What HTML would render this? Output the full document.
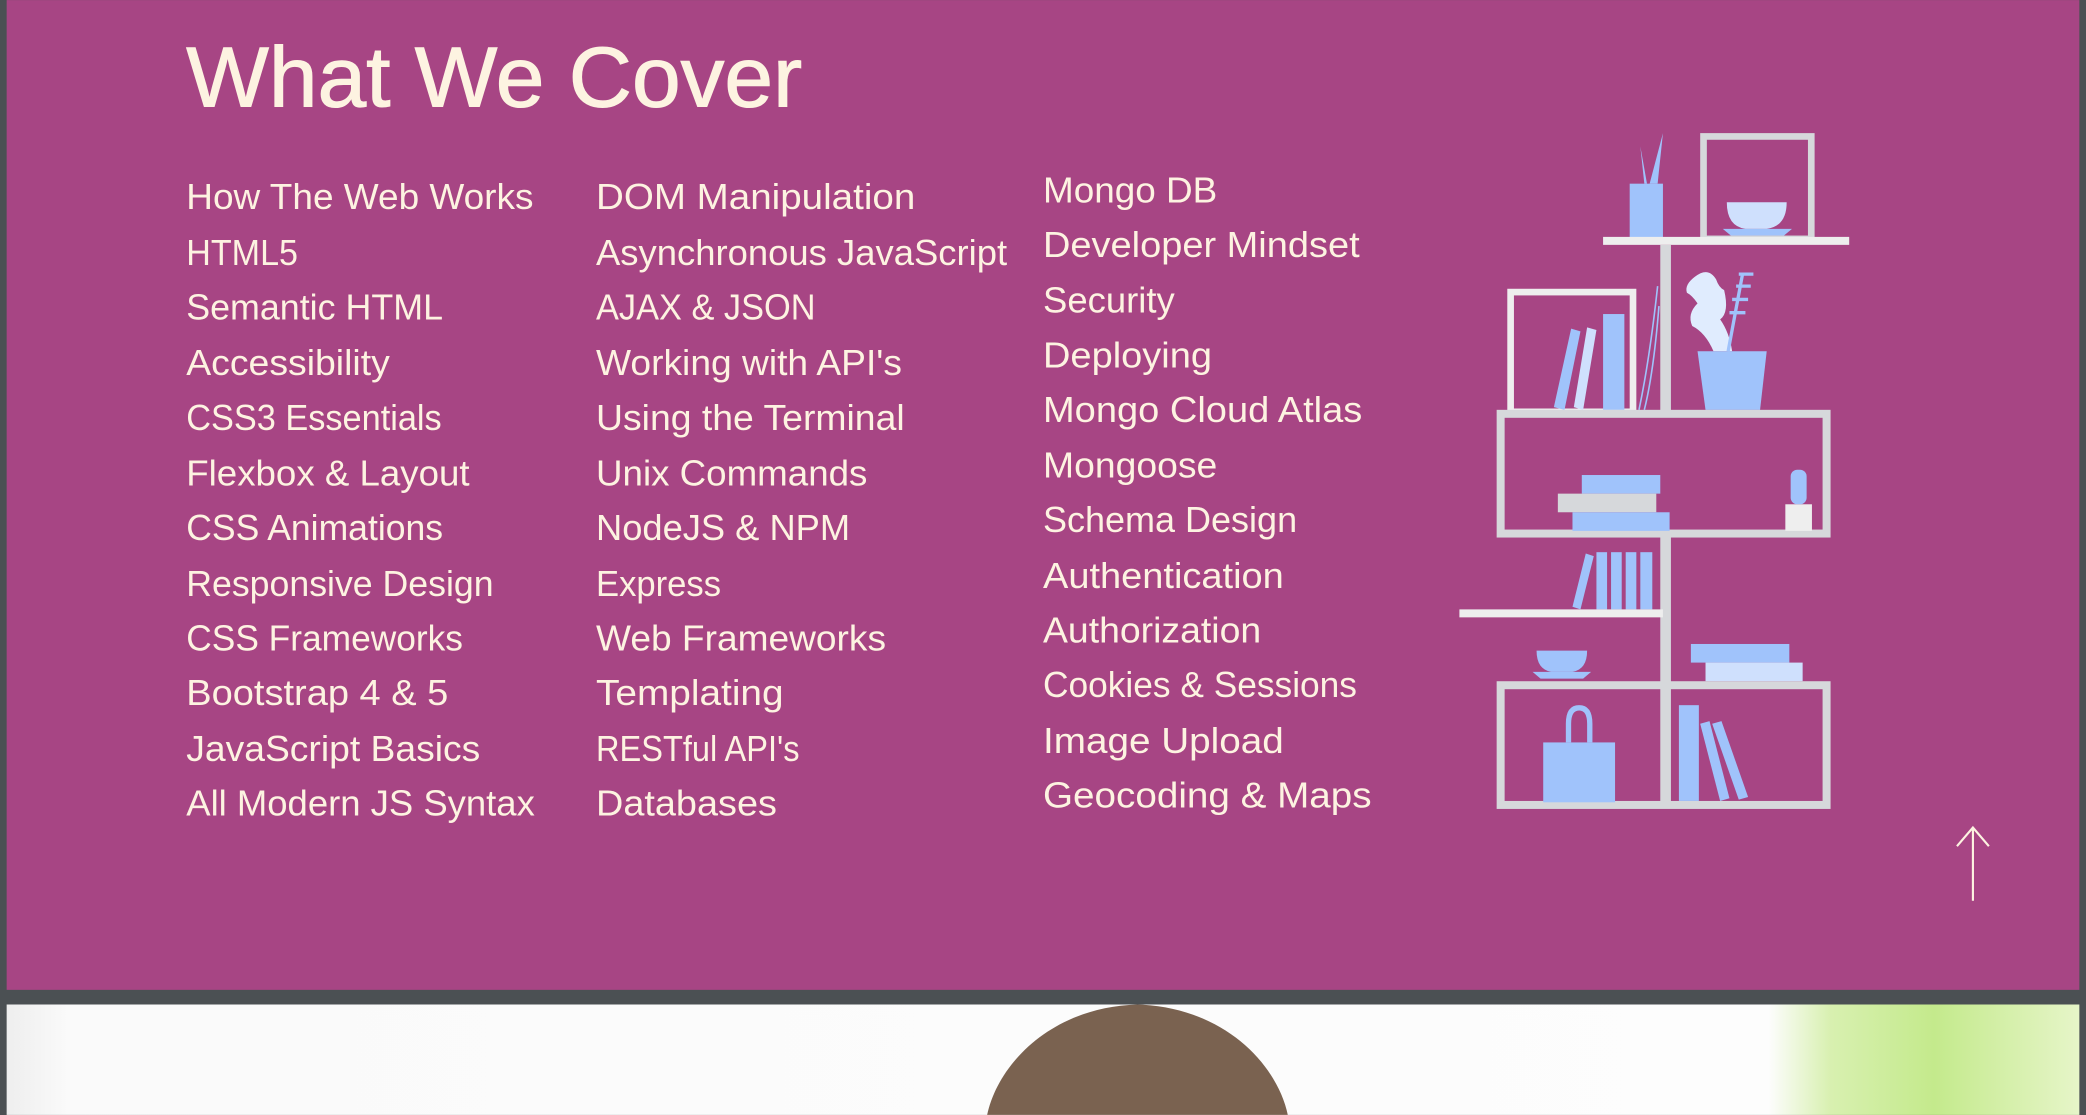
<!DOCTYPE html>
<html><head><meta charset="utf-8"><style>
html,body{margin:0;padding:0;background:#4b5053;overflow:hidden}
svg{display:block}
text{font-family:"Liberation Sans",sans-serif;fill:#fdf3e1}
</style></head><body>
<svg width="2086" height="1115" viewBox="0 0 1568 838" xmlns="http://www.w3.org/2000/svg">
<defs>
<linearGradient id="bgp" x1="0" x2="1" y1="0" y2="0">
<stop offset="0" stop-color="#eeeeee"/><stop offset="0.03" stop-color="#fafafa"/><stop offset="0.85" stop-color="#fdfdfd"/><stop offset="0.88" stop-color="#d8f0b0"/><stop offset="0.93" stop-color="#c4ea8c"/><stop offset="1" stop-color="#e6f5c8"/>
</linearGradient>
</defs>
<rect x="0" y="0" width="1568" height="838" fill="#4b5053"/>
<rect x="5" y="0" width="1558" height="744" fill="#a74584"/>
<rect x="5" y="755" width="1558" height="83" fill="url(#bgp)"/>
<path d="M742 838 C750 800 790 757 855 755 C920 757 960 800 968 838 Z" fill="#7a6250"/>

<text x="140" y="80" font-size="64" textLength="463" lengthAdjust="spacingAndGlyphs" stroke="#fdf3e1" stroke-width="0.8">What We Cover</text>

<g font-size="27">
<text x="140" y="157" textLength="261" lengthAdjust="spacingAndGlyphs">How The Web Works</text>
<text x="140" y="199" textLength="84" lengthAdjust="spacingAndGlyphs">HTML5</text>
<text x="140" y="240" textLength="193" lengthAdjust="spacingAndGlyphs">Semantic HTML</text>
<text x="140" y="282" textLength="153" lengthAdjust="spacingAndGlyphs">Accessibility</text>
<text x="140" y="323" textLength="192" lengthAdjust="spacingAndGlyphs">CSS3 Essentials</text>
<text x="140" y="365" textLength="213" lengthAdjust="spacingAndGlyphs">Flexbox &amp; Layout</text>
<text x="140" y="406" textLength="193" lengthAdjust="spacingAndGlyphs">CSS Animations</text>
<text x="140" y="448" textLength="231" lengthAdjust="spacingAndGlyphs">Responsive Design</text>
<text x="140" y="489" textLength="208" lengthAdjust="spacingAndGlyphs">CSS Frameworks</text>
<text x="140" y="530" textLength="197" lengthAdjust="spacingAndGlyphs">Bootstrap 4 &amp; 5</text>
<text x="140" y="572" textLength="221" lengthAdjust="spacingAndGlyphs">JavaScript Basics</text>
<text x="140" y="613" textLength="262" lengthAdjust="spacingAndGlyphs">All Modern JS Syntax</text>

<text x="448" y="157" textLength="240" lengthAdjust="spacingAndGlyphs">DOM Manipulation</text>
<text x="448" y="199" textLength="309" lengthAdjust="spacingAndGlyphs">Asynchronous JavaScript</text>
<text x="448" y="240" textLength="165" lengthAdjust="spacingAndGlyphs">AJAX &amp; JSON</text>
<text x="448" y="282" textLength="230" lengthAdjust="spacingAndGlyphs">Working with API's</text>
<text x="448" y="323" textLength="232" lengthAdjust="spacingAndGlyphs">Using the Terminal</text>
<text x="448" y="365" textLength="204" lengthAdjust="spacingAndGlyphs">Unix Commands</text>
<text x="448" y="406" textLength="191" lengthAdjust="spacingAndGlyphs">NodeJS &amp; NPM</text>
<text x="448" y="448" textLength="94" lengthAdjust="spacingAndGlyphs">Express</text>
<text x="448" y="489" textLength="218" lengthAdjust="spacingAndGlyphs">Web Frameworks</text>
<text x="448" y="530" textLength="141" lengthAdjust="spacingAndGlyphs">Templating</text>
<text x="448" y="572" textLength="153" lengthAdjust="spacingAndGlyphs">RESTful API's</text>
<text x="448" y="613" textLength="136" lengthAdjust="spacingAndGlyphs">Databases</text>

<text x="784" y="152" textLength="131" lengthAdjust="spacingAndGlyphs">Mongo DB</text>
<text x="784" y="193" textLength="238" lengthAdjust="spacingAndGlyphs">Developer Mindset</text>
<text x="784" y="235" textLength="99" lengthAdjust="spacingAndGlyphs">Security</text>
<text x="784" y="276" textLength="127" lengthAdjust="spacingAndGlyphs">Deploying</text>
<text x="784" y="317" textLength="240" lengthAdjust="spacingAndGlyphs">Mongo Cloud Atlas</text>
<text x="784" y="359" textLength="131" lengthAdjust="spacingAndGlyphs">Mongoose</text>
<text x="784" y="400" textLength="191" lengthAdjust="spacingAndGlyphs">Schema Design</text>
<text x="784" y="442" textLength="181" lengthAdjust="spacingAndGlyphs">Authentication</text>
<text x="784" y="483" textLength="164" lengthAdjust="spacingAndGlyphs">Authorization</text>
<text x="784" y="524" textLength="236" lengthAdjust="spacingAndGlyphs">Cookies &amp; Sessions</text>
<text x="784" y="566" textLength="181" lengthAdjust="spacingAndGlyphs">Image Upload</text>
<text x="784" y="607" textLength="247" lengthAdjust="spacingAndGlyphs">Geocoding &amp; Maps</text>
</g>

<!-- shelf -->
<g>
<path d="M1236 138 L1233 110 L1238 138 Z M1240 138 L1250 100 L1246 138 Z" fill="#a0c3fb"/>
<rect x="1225" y="138" width="25" height="41" fill="#a0c3fb"/>
<rect x="1280.5" y="102.5" width="81" height="77" fill="none" stroke="#d6d8db" stroke-width="5"/>
<path d="M1298 152 H1343 Q1343 170 1328 172 H1312 Q1298 170 1298 152 Z" fill="#cfe0fd"/>
<path d="M1295 172 H1347 L1341 177 H1301 Z" fill="#a0c3fb"/>
<rect x="1205" y="178" width="185" height="6" fill="#eeeeee"/>
<rect x="1248" y="184" width="8" height="126" fill="#d6d8db"/>
<rect x="1248" y="402" width="8" height="204" fill="#d6d8db"/>
<rect x="1135.5" y="219.5" width="92" height="90" fill="none" stroke="#eeeeee" stroke-width="5"/>
<path d="M1168 306 L1181 247 L1188 249 L1176 308 Z" fill="#a0c3fb"/>
<path d="M1183 306 L1193 246 L1200 248 L1190 308 Z" fill="#cfe0fd"/>
<rect x="1205" y="236" width="16" height="72" fill="#a0c3fb"/>
<path d="M1232 308 Q1240 270 1246 215 M1236 308 Q1243 280 1247 230" stroke="#a0c3fb" stroke-width="1.2" fill="none"/>
<path d="M1274 208 Q1284 200 1290 210 Q1292 216 1296 218 Q1300 235 1293 240 Q1300 250 1302 264 L1288 264 Q1282 250 1272 245 Q1268 236 1276 228 Q1272 222 1268 220 Q1266 214 1274 208 Z" fill="#e0ecfe"/>
<path d="M1299 264 L1310 205 M1300 235 H1312 M1302 225 H1314 M1305 215 H1316 M1307 206 H1318" stroke="#a0c3fb" stroke-width="2.5" fill="none"/>
<path d="M1276 264 H1328 L1323 308 H1282 Z" fill="#a0c3fb"/>
<rect x="1128" y="311" width="245" height="90" fill="none" stroke="#d6d8db" stroke-width="6"/>
<rect x="1189" y="357" width="59" height="14" fill="#a0c3fb"/>
<rect x="1171" y="371" width="74" height="14" fill="#d6d8db"/>
<rect x="1182" y="385" width="73" height="14" fill="#a0c3fb"/>
<rect x="1342" y="379" width="20" height="20" fill="#eeeeee"/>
<rect x="1346" y="353" width="12" height="26" rx="5" fill="#a0c3fb"/>
<path d="M1182 456 L1192 416 L1198 418 L1188 458 Z" fill="#a0c3fb"/>
<rect x="1200" y="415" width="8" height="43" fill="#a0c3fb"/>
<rect x="1211" y="415" width="8" height="43" fill="#a0c3fb"/>
<rect x="1222" y="415" width="8" height="43" fill="#a0c3fb"/>
<rect x="1233" y="415" width="9" height="43" fill="#a0c3fb"/>
<rect x="1097" y="458" width="153" height="6" fill="#eeeeee"/>
<path d="M1155 489 H1193 Q1193 503 1182 505 H1166 Q1155 503 1155 489 Z" fill="#a0c3fb"/>
<path d="M1152 505 H1196 L1190 510 H1158 Z" fill="#a0c3fb"/>
<rect x="1271" y="484" width="74" height="14" fill="#a0c3fb"/>
<rect x="1282" y="498" width="73" height="14" fill="#cfe0fd"/>
<rect x="1128" y="515" width="245" height="90" fill="none" stroke="#d6d8db" stroke-width="6"/>
<path d="M1179 558 V544 Q1179 532 1187 532 Q1195 532 1195 544 V558" fill="none" stroke="#a0c3fb" stroke-width="4"/>
<rect x="1160" y="558" width="54" height="45" fill="#a0c3fb"/>
<rect x="1262" y="530" width="15" height="72" fill="#a0c3fb"/>
<path d="M1278 544 L1285 542 L1300 600 L1293 602 Z" fill="#a0c3fb"/>
<path d="M1287 544 L1294 542 L1314 599 L1307 601 Z" fill="#a0c3fb"/>
</g>

<path d="M1483 677 V622 M1471 636 L1483 622 L1495 636" stroke="#fdf3e1" stroke-width="1.6" fill="none"/>
</svg>
</body></html>
